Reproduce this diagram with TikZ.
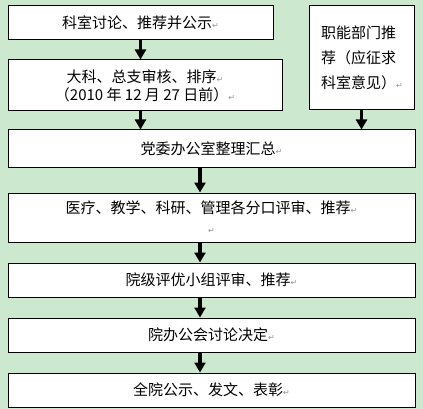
\documentclass[tikz,border=0pt]{standalone}
\usepackage{fontspec}
\newfontfamily\cjk{Noto Sans CJK SC}
\newfontfamily\markfont{DejaVu Sans}
\usetikzlibrary{arrows.meta}
\definecolor{beangreen}{RGB}{204,232,207}
\definecolor{markgray}{RGB}{150,150,150}
\newcommand{\pmark}{{\markfont\fontsize{8}{8}\selectfont\textcolor{markgray}{↵}}}
\tikzset{
  stepbox/.style={rectangle, draw=black, fill=white, line width=1pt, inner sep=0pt,
    font=\cjk\fontsize{15}{18}\selectfont, align=center},
  deptbox/.style={stepbox, align=left, text width=81pt, font=\cjk\fontsize{15}{25}\selectfont},
  flow/.style={-{Triangle[length=10pt,width=11pt]}, line width=3.5pt}
}
\begin{document}
\begin{tikzpicture}[x=1pt, y=-1pt]
  \fill[beangreen] (0,0) rectangle (423,409);
  \useasboundingbox (0,0) rectangle (423,409);
  % upper row
  \node[stepbox, minimum width=265pt, minimum height=34pt] (box1) at (140.5,23)
    {科室讨论、推荐并公示\pmark};
  \node[stepbox, minimum width=274pt, minimum height=51pt] (box2) at (145,85.5)
    {大科、总支审核、排序\pmark\\（2010 年 12 月 27 日前）\pmark};
  \node[deptbox, minimum width=105pt, minimum height=104pt] (dept) at (361.5,58)
    {职能部门推\\荐（应征求\\科室意见）\pmark};
  % main column
  \node[stepbox, minimum width=407pt, minimum height=37pt] (box3) at (211.5,148.5)
    {党委办公室整理汇总\pmark};
  \node[stepbox, minimum width=407pt, minimum height=49pt, font=\cjk\fontsize{15}{20}\selectfont] (box4) at (211.5,217.5)
    {医疗、教学、科研、管理各分口评审、推荐\pmark\\\pmark};
  \node[stepbox, minimum width=407pt, minimum height=34pt] (box5) at (211.5,280)
    {院级评优小组评审、推荐\pmark};
  \node[stepbox, minimum width=407pt, minimum height=34pt] (box6) at (211.5,335)
    {院办公会讨论决定\pmark};
  \node[stepbox, minimum width=407pt, minimum height=34pt] (box7) at (211.5,390)
    {全院公示、发文、表彰\pmark};
  \coordinate (mid) at (200,0);
  % arrows
  \draw[flow] (box1.south) -- (box1.south |- box2.north);
  \draw[flow] (box2.south -| box1) -- (box3.north -| box1);
  \draw[flow] (dept.south) -- (dept.south |- box3.north);
  \foreach \a/\b in {box3/box4, box4/box5, box5/box6, box6/box7}
    \draw[flow] (\a.south -| mid) -- (\b.north -| mid);
\end{tikzpicture}
\end{document}
